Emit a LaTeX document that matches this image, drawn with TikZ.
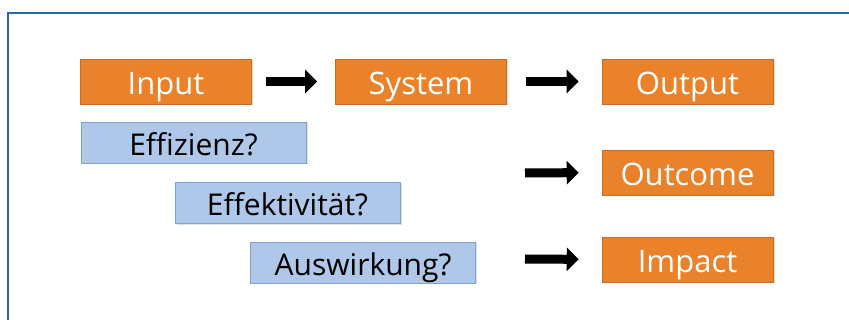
\documentclass[tikz,border=0pt]{standalone}
\usepackage{fontspec}
\setmainfont{Open Sans}
\usetikzlibrary{arrows.meta,shadows}
\definecolor{boxorange}{HTML}{E9822A}
\definecolor{boxblue}{HTML}{AFC8E9}
\definecolor{blueedge}{HTML}{7FA1CC}
\definecolor{framecol}{HTML}{2A67A6}
\tikzset{
  obox/.style={fill=boxorange, draw=boxorange!85!black, line width=0.6pt, minimum width=171pt, minimum height=45pt, text=white, font=\fontsize{31}{32}\selectfont, inner sep=0pt, text height=26pt, text depth=0pt, drop shadow={shadow xshift=1.5pt, shadow yshift=-1.5pt, opacity=0.25}},
  qbox/.style={fill=boxblue, draw=blueedge, line width=0.6pt, minimum width=225pt, minimum height=41pt, text=black, font=\fontsize{30}{31}\selectfont, inner sep=0pt, text height=26pt, text depth=0pt, drop shadow={shadow xshift=1.5pt, shadow yshift=-1.5pt, opacity=0.25}},
  bigarrow/.style={line width=9pt, -{Triangle[length=12pt,width=23pt]}, black}
}
\begin{document}
\begin{tikzpicture}[x=1pt,y=-1pt]
\useasboundingbox (0,0) rectangle (849,320);
\fill[white] (0,0) rectangle (849,320);
\draw[framecol, line width=1.5pt] (8,320) -- (8,13) -- (849,13);
\node[obox] (input) at (166,81.5) {Input};
\node[obox] (system) at (421,81.5) {System};
\node[obox] (output) at (687.5,81.5) {Output};
\node[obox] (outcome) at (687.5,172.5) {Outcome};
\node[obox] (impact) at (687.5,259.5) {Impact};
\node[qbox] (eff) at (193.5,142.5) {Effizienz?};
\node[qbox] (effk) at (287.5,203) {Effektivität?};
\node[qbox] (ausw) at (363,262.5) {Auswirkung?};
\coordinate (s3) at (525,173);
\coordinate (s4) at (525,259);
\draw[bigarrow, shorten <=14pt, shorten >=18pt] (input.east) -- (system.west);
\draw[bigarrow, shorten <=19pt, shorten >=23pt] (system.east) -- (output.west);
\draw[bigarrow, shorten >=23pt] (s3) -- (outcome.west);
\draw[bigarrow, shorten >=23pt] (s4) -- (impact.west);
\end{tikzpicture}
\end{document}
